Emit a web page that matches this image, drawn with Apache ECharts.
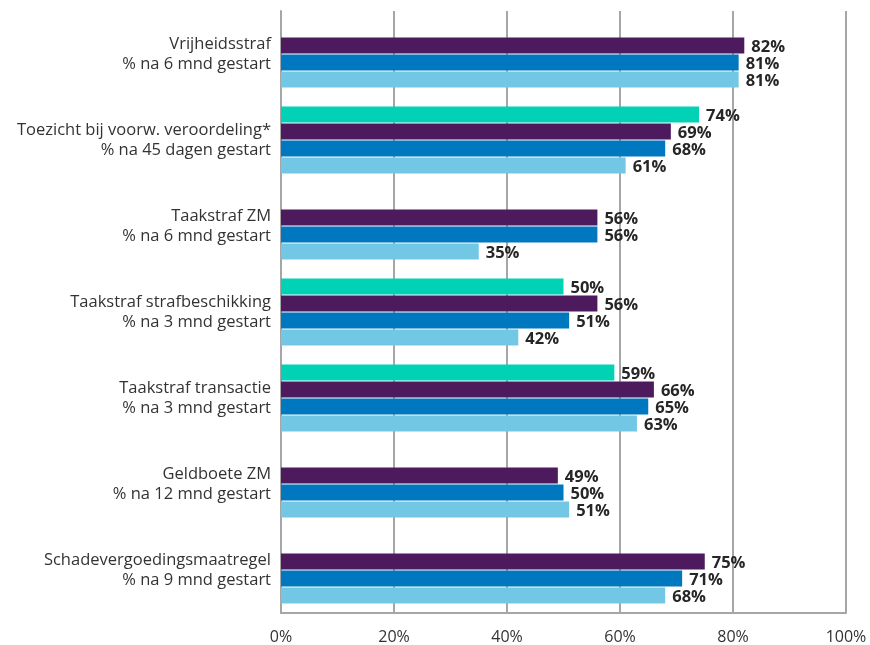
<!DOCTYPE html>
<html>
<head>
<meta charset="utf-8">
<script src="https://cdn.jsdelivr.net/npm/echarts@6/dist/echarts.min.js"></script>
<style>
  html, body { margin: 0; padding: 0; background: #fff; }
  #chart { width: 870px; height: 645px; }
</style>
</head>
<body>
<div id="chart"></div>
<script>
const categories = [
  'Vrijheidsstraf\n% na 6 mnd gestart',
  'Toezicht bij voorw. veroordeling*\n% na 45 dagen gestart',
  'Taakstraf ZM\n% na 6 mnd gestart',
  'Taakstraf strafbeschikking\n% na 3 mnd gestart',
  'Taakstraf transactie\n% na 3 mnd gestart',
  'Geldboete ZM\n% na 12 mnd gestart',
  'Schadevergoedingsmaatregel\n% na 9 mnd gestart'
]
const tealValues = [null, 74, null, 50, 59, null, null]
const purpleValues = [82, 69, 56, 56, 66, 49, 75]
const blueValues = [81, 68, 56, 51, 65, 50, 71]
const lightValues = [81, 61, 35, 42, 63, 51, 68]
const xTicks = [0, 20, 40, 60, 80, 100]

const chart = echarts.init(document.getElementById('chart'))
const gridGray = '#a6a6a6'
const font = 'Open Sans'

const makeSeries = (name, data, color) => ({
  name: name,
  type: 'bar',
  data: data,
  barWidth: 16,
  barGap: '6%',
  itemStyle: { color: color },
  label: {
    show: true,
    position: 'right',
    distance: 7,
    offset: [0, 2],
    formatter: p => p.value == null ? '' : p.value + '%',
    color: '#262626',
    fontFamily: font,
    fontWeight: 'bold',
    fontSize: 16.5
  }
})

chart.setOption({
  animation: false,
  grid: { left: 281, right: 24, top: 11, bottom: 31 },
  xAxis: {
    type: 'value',
    min: xTicks[0],
    max: xTicks[xTicks.length - 1],
    interval: 20,
    axisLine: { show: true, lineStyle: { color: gridGray, width: 2 } },
    axisTick: { show: false },
    splitLine: { lineStyle: { color: gridGray, width: 2 } },
    axisLabel: {
      formatter: '{value}%',
      color: '#333',
      fontFamily: font,
      fontSize: 16,
      margin: 16
    }
  },
  yAxis: {
    type: 'category',
    inverse: true,
    data: categories,
    axisLine: { show: true, lineStyle: { color: gridGray, width: 2 } },
    axisTick: { show: false },
    axisLabel: {
      color: '#333',
      fontFamily: font,
      fontSize: 16.5,
      lineHeight: 20,
      align: 'right',
      margin: 10
    }
  },
  series: [
    makeSeries('teal', tealValues, '#01d1b5'),
    makeSeries('purple', purpleValues, '#4e1a5e'),
    makeSeries('blue', blueValues, '#0078c0'),
    makeSeries('light', lightValues, '#72c8e4')
  ]
})
</script>
</body>
</html>
